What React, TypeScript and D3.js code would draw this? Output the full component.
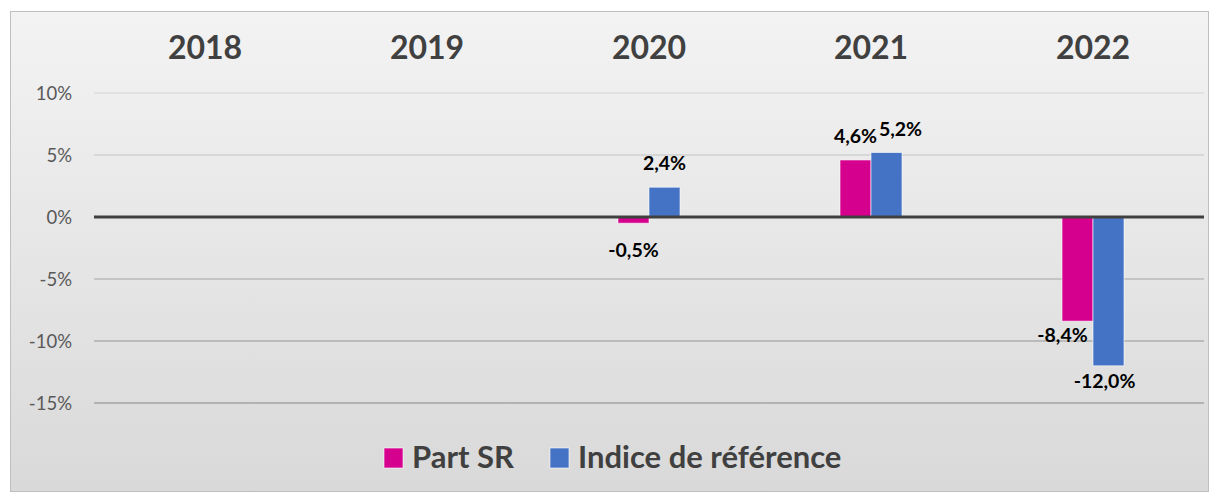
import React from "react";
import * as d3 from "d3";

const categories = ["2018", "2019", "2020", "2021", "2022"];
const partSR: (number | null)[] = [null, null, -0.5, 4.6, -8.4];
const indiceRef: (number | null)[] = [null, null, 2.4, 5.2, -12.0];
const yTicks = [10, 5, 0, -5, -10, -15];
const seriesNames = ["Part SR", "Indice de référence"];
const seriesColors = ["#d6008f", "#4472c4"];
// label nudges [series][category] in px (dx, dy)
const labelNudge: [number, number][][] = [
  [[0, 0], [0, 0], [0, 13], [0, 0], [-15, 0]],
  [[0, 0], [0, 0], [0, 0], [14, 0], [-4, 1]],
];

const W = 1217, H = 495;
const FONT = "Lato, 'Open Sans', sans-serif";

export default function App() {
  const x = d3.scaleBand<string>().domain(categories).range([94, 1204]);
  const y = d3.scaleLinear().domain([-15, 10]).range([403, 93]);
  const gridColor = d3.scaleLinear<string>().domain([93, 403]).range(["#dcdcdc", "#a3a3a3"]);
  const barW = 31;
  const fmt = (v: number) => v.toFixed(1).replace(".", ",") + "%";
  const series = [partSR, indiceRef];

  return (
    <div style={{ position: "absolute", left: 0, top: 0 }}>
      <svg width={W} height={H} style={{ display: "block" }}>
        <defs>
          <linearGradient id="bg" x1="0" y1="0" x2="0" y2="1">
            <stop offset="0" stopColor="#f3f3f3" />
            <stop offset="1" stopColor="#d9d9d9" />
          </linearGradient>
        </defs>
        <rect x={10.5} y={11.5} width={1198} height={480} fill="url(#bg)" stroke="#bfbfbf" strokeWidth={1} />
        {yTicks.map((t) => (
          <g key={t}>
            {t !== 0 && (
              <line x1={94} x2={1204} y1={y(t)} y2={y(t)} stroke={gridColor(y(t))} strokeWidth={1.5} />
            )}
            <text x={72} y={y(t)} dy="0.36em" textAnchor="end" fontFamily={FONT} fontSize={18.5} fill="#595959">
              {t}%
            </text>
          </g>
        ))}
        {categories.map((c) => (
          <text key={c} x={x(c)! + x.bandwidth() / 2} y={59} textAnchor="middle" fontFamily={FONT} fontWeight="bold" fontSize={32} fill="#404040">
            {c}
          </text>
        ))}
        {series.map((vals, si) =>
          vals.map((v, ci) => {
            if (v === null) return null;
            const cx = x(categories[ci])! + x.bandwidth() / 2;
            const bx = cx - barW + si * barW;
            const y0 = y(0), y1 = y(v);
            return (
              <rect key={`b${si}-${ci}`} x={bx} y={Math.min(y0, y1)} width={barW} height={Math.abs(y1 - y0)}
                fill={seriesColors[si]} stroke="#ffffff" strokeOpacity={0.6} strokeWidth={1} />
            );
          })
        )}
        <line x1={94} x2={1204} y1={y(0)} y2={y(0)} stroke="#404040" strokeWidth={3} />
        {series.map((vals, si) =>
          vals.map((v, ci) => {
            if (v === null) return null;
            const cx = x(categories[ci])! + x.bandwidth() / 2;
            const lx = cx - barW / 2 + si * barW;
            const [dx, dy] = labelNudge[si][ci];
            const ly = v >= 0 ? y(v) - 17 : y(v) + 21;
            return (
              <text key={`l${si}-${ci}`} x={lx + dx} y={ly + dy} textAnchor="middle" fontFamily={FONT} fontWeight="bold" fontSize={19.5} fill="#000">
                {fmt(v)}
              </text>
            );
          })
        )}
        <g>
          <rect x={384} y={448} width={19} height={20} fill={seriesColors[0]} stroke="#ffffff" strokeOpacity={0.6} />
          <text x={412} y={468} fontFamily={FONT} fontWeight="bold" fontSize={31} fill="#404040">{seriesNames[0]}</text>
          <rect x={550} y={448} width={19} height={20} fill={seriesColors[1]} stroke="#ffffff" strokeOpacity={0.6} />
          <text x={578} y={468} fontFamily={FONT} fontWeight="bold" fontSize={31} fill="#404040">{seriesNames[1]}</text>
        </g>
      </svg>
    </div>
  );
}
